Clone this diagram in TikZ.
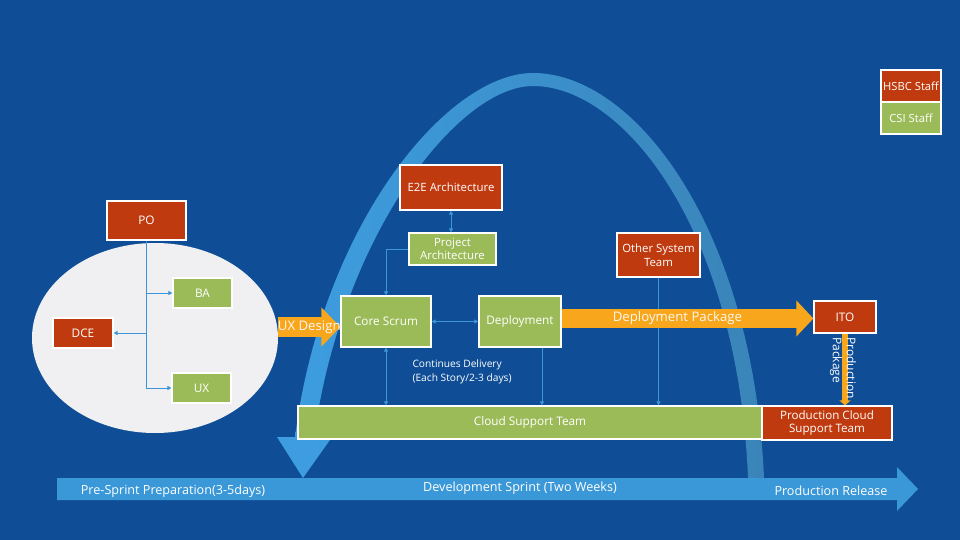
\documentclass[tikz,border=0pt]{standalone}
\usepackage{fontspec}
\setmainfont{Open Sans}
\usetikzlibrary{arrows.meta, positioning, shapes.geometric, calc}
\definecolor{slidebg}{HTML}{0F4E96}
\definecolor{staffred}{HTML}{BF3A0E}
\definecolor{staffgreen}{HTML}{9BBB59}
\definecolor{flowcol}{HTML}{F8A61C}
\definecolor{linkcol}{HTML}{3C95D8}
\definecolor{arcleft}{HTML}{3D9DE0}
\definecolor{arcright}{HTML}{3A84B8}
\definecolor{barcol}{HTML}{3A98D8}
\definecolor{poolcol}{HTML}{F0F0F2}

\begin{document}
\begin{tikzpicture}[x=1pt, y=-1pt,
  hsbcnode/.style={draw=white, line width=1.2pt, fill=staffred, text=white, align=center, inner sep=1pt, font=\fontsize{11.8}{13.5}\selectfont},
  csinode/.style={hsbcnode, fill=staffgreen},
  link/.style={draw=linkcol, line width=0.8pt, -{Triangle[length=4pt, width=4pt]}},
  duplink/.style={link, {Triangle[length=4pt, width=4pt]}-{Triangle[length=4pt, width=4pt]}},
  flow/.style={draw=flowcol, line width=20pt, -{Triangle[length=19pt, width=38pt]}},
  flowtext/.style={text=white!92!flowcol, font=\fontsize{13.2}{15}\selectfont},
  bartext/.style={text=white, font=\fontsize{12.6}{14}\selectfont}
]
\fill[slidebg] (0,0) rectangle (960,540);
\useasboundingbox (0,0) rectangle (960,540);

% sprint arc
\shade[left color=arcleft, middle color=arcleft!80!arcright, right color=arcright]
  (295,437) .. controls (322,225) and (447,73) .. (533,73)
  .. controls (635,73) and (753,228) .. (764,478)
  -- (748,478) .. controls (738,232) and (625,86) .. (533,86)
  .. controls (458,86) and (342,235) .. (314,437) -- cycle;
\fill[arcleft] (277,437) -- (332,437) -- (303,478) -- cycle;

% timeline
\fill[barcol] (57,478) -- (897,478) -- (897,467) -- (918,489) -- (897,511) -- (897,500) -- (57,500) -- cycle;
\node[bartext] (prep) at (173,491) {Pre-Sprint Preparation(3-5days)};
\node[bartext] (devsprint) at (520,488) {Development Sprint (Two Weeks)};
\node[bartext] (release) at (831,491) {Production Release};

\node[ellipse, fill=poolcol, minimum width=246pt, minimum height=190pt] (pool) at (155,338) {};

\node[hsbcnode, minimum width=79pt, minimum height=39pt] (po) at (146.5,220.5) {PO};
\node[csinode, minimum width=59pt, minimum height=30pt] (ba) at (202.5,293) {BA};
\node[hsbcnode, minimum width=60pt, minimum height=30pt] (dce) at (83,333) {DCE};
\node[csinode, minimum width=59pt, minimum height=30pt] (ux) at (201.5,388) {UX};

\node[csinode, minimum width=90pt, minimum height=51pt] (core) at (386,321.5) {Core Scrum};
\node[csinode, minimum width=82pt, minimum height=51pt] (deploy) at (520,321.5) {Deployment};
\node[hsbcnode, minimum width=102pt, minimum height=45pt, font=\fontsize{11.4}{13}\selectfont] (e2e) at (451,187.5) {E2E Architecture};
\node[csinode, minimum width=87pt, minimum height=32pt, font=\fontsize{11.4}{12.8}\selectfont] (projarch) at (452.5,249) {Project\\Architecture};
\node[hsbcnode, minimum width=83pt, minimum height=44pt, font=\fontsize{11.4}{14}\selectfont] (other) at (658.5,255) {Other System\\Team};
\node[hsbcnode, minimum width=62pt, minimum height=32pt] (ito) at (845,317) {ITO};
\node[csinode, minimum width=464pt, minimum height=33pt] (cloud) at (530,422.5) {Cloud Support Team};
\node[hsbcnode, minimum width=130pt, minimum height=34pt, font=\fontsize{11.6}{13.2}\selectfont] (prodcloud) at (827,423) {Production Cloud\\Support Team};

\node[hsbcnode, minimum width=60pt, minimum height=32pt, font=\fontsize{11.2}{12}\selectfont] (hsbckey) at (911,86) {HSBC Staff};
\node[csinode, minimum width=60pt, minimum height=32pt, font=\fontsize{11.2}{12}\selectfont] (csikey) at (911,118) {CSI Staff};

\node[anchor=west, align=left, text=white, font=\fontsize{10.2}{14}\selectfont] (cdnote) at (409,372) {Continues Delivery\\(Each Story/2-3 days)};

\draw[link] (po.south) -- (po.south |- ux.west) -- (ux.west);
\draw[link] (po.south |- ba.west) -- (ba.west);
\draw[link] (po.south |- dce.east) -- (dce.east);
\draw[duplink] (e2e.south) -- (e2e.south |- projarch.north);
\draw[link] (projarch.west) -| (core.north);
\draw[duplink] (core.east) -- (deploy.west);
\draw[duplink] (core.south) -- (core.south |- cloud.north);
\draw[link] ([xshift=22pt]deploy.south) -- ([xshift=22pt]deploy.south |- cloud.north);
\draw[link] (other.south) -- (other.south |- cloud.north);

\coordinate (uxrow) at (0,327);
\coordinate (pkgrow) at (0,318.5);
\draw[flow] (pool.east |- uxrow) -- (core.west |- uxrow) node[midway, flowtext] (uxdesign) {UX Design};
\draw[flow, line width=19pt, -{Triangle[length=17pt, width=35pt]}] (deploy.east |- pkgrow) -- (ito.west |- pkgrow) node[pos=0.46, flowtext] (deppkg) {Deployment Package};
\draw[flow, line width=6pt, -{Triangle[length=5pt, width=11pt]}] (ito.south) -- (ito.south |- prodcloud.north);
\node[rotate=-90, align=left, text=white, font=\fontsize{12}{14}\selectfont] (prodpkg) at (843,368) {Production\\Package};
\end{tikzpicture}
\end{document}
